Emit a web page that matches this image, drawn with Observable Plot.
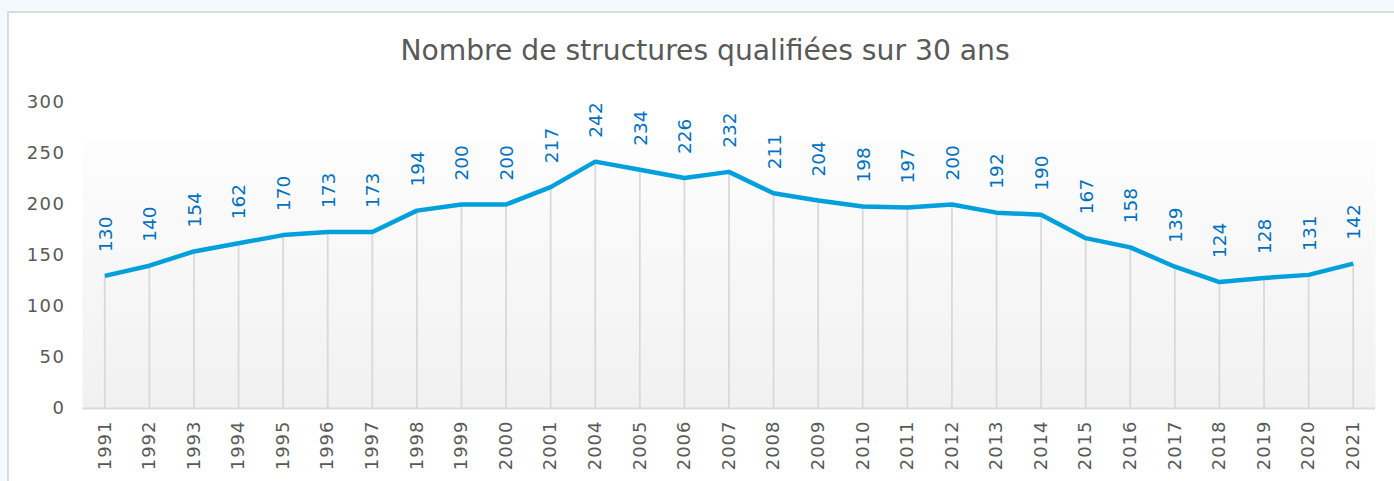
<!DOCTYPE html>
<html>
<head>
<meta charset="utf-8">
<script src="https://cdn.jsdelivr.net/npm/d3@7"></script>
<script src="https://cdn.jsdelivr.net/npm/@observablehq/plot@0.6"></script>
<style>
  html, body { margin: 0; padding: 0; background: #f4f9fd; width: 1394px; height: 481px; overflow: hidden; }
  #frame { position: absolute; left: 7px; top: 11px; width: 1420px; height: 500px; background: #ffffff; border-left: 2px solid #d8dcdc; border-top: 2px solid #d8dcdc; box-sizing: border-box; }
  #title { position: absolute; top: 37px; left: 705px; transform: translateX(-50%); white-space: nowrap; font-family: "DejaVu Sans", sans-serif; font-size: 28.2px; line-height: 28px; color: #595959; }
  #chart { position: absolute; left: 0; top: 80px; }
</style>
</head>
<body>
<div id="frame"></div>
<div id="title">Nombre de structures qualifiées sur 30 ans</div>
<div id="chart"></div>
<script>
const years = ["1991","1992","1993","1994","1995","1996","1997","1998","1999","2000","2001","2004","2005","2006","2007","2008","2009","2010","2011","2012","2013","2014","2015","2016","2017","2018","2019","2020","2021"];
const values = [130,140,154,162,170,173,173,194,200,200,217,242,234,226,232,211,204,198,197,200,192,190,167,158,139,124,128,131,142];
const yTicks = [0,50,100,150,200,250,300];

const data = years.map((year, i) => ({year, value: values[i]}));

const chart = Plot.plot({
  width: 1394,
  height: 401,
  marginLeft: 82,
  marginRight: 19,
  marginTop: 22,
  marginBottom: 73,
  style: {background: "transparent", overflow: "visible", fontFamily: "DejaVu Sans, sans-serif"},
  x: {type: "band", domain: years, padding: 0, round: false, label: null},
  y: {domain: [0, 300], label: null},
  marks: [
    Plot.frame({fill: "url(#plotbg)", stroke: null}),
    Plot.axisY({ticks: yTicks, tickSize: 0, tickPadding: 17, fontSize: 18, fill: "#595959"}),
    Plot.axisX({tickSize: 0, tickPadding: 12, tickRotate: -90, fontSize: 18, fill: "#595959"}),
    Plot.ruleX(data, {x: "year", y1: 0, y2: "value", stroke: "#d9d9d9", strokeWidth: 1.8}),
    Plot.ruleY([0], {stroke: "#d9d9d9", strokeWidth: 2}),
    Plot.line(data, {x: "year", y: "value", stroke: "#00a0dc", strokeWidth: 4.5, strokeLinejoin: "round", strokeLinecap: "butt"}),
    Plot.text(data, {x: "year", y: "value", text: d => String(d.value), rotate: -90, textAnchor: "start", lineAnchor: "middle", dy: -24, dx: 1, fontSize: 18.5, fill: "#0070c0"})
  ]
});

const svg = d3.select(chart);
svg.selectAll('[aria-label="y-axis tick label"] text').style("letter-spacing", "1.5px");
svg.selectAll('[aria-label="x-axis tick label"] text').style("letter-spacing", "1px");

const defs = svg.insert("defs", ":first-child");
const grad = defs.append("linearGradient").attr("id", "plotbg").attr("x1", 0).attr("y1", 0).attr("x2", 0).attr("y2", 1);
grad.append("stop").attr("offset", "0").attr("stop-color", "#ffffff");
grad.append("stop").attr("offset", "0.127").attr("stop-color", "#ffffff");
grad.append("stop").attr("offset", "0.128").attr("stop-color", "#fdfdfd");
grad.append("stop").attr("offset", "1").attr("stop-color", "#f1f1f1");

document.getElementById("chart").appendChild(chart);
</script>
</body>
</html>
